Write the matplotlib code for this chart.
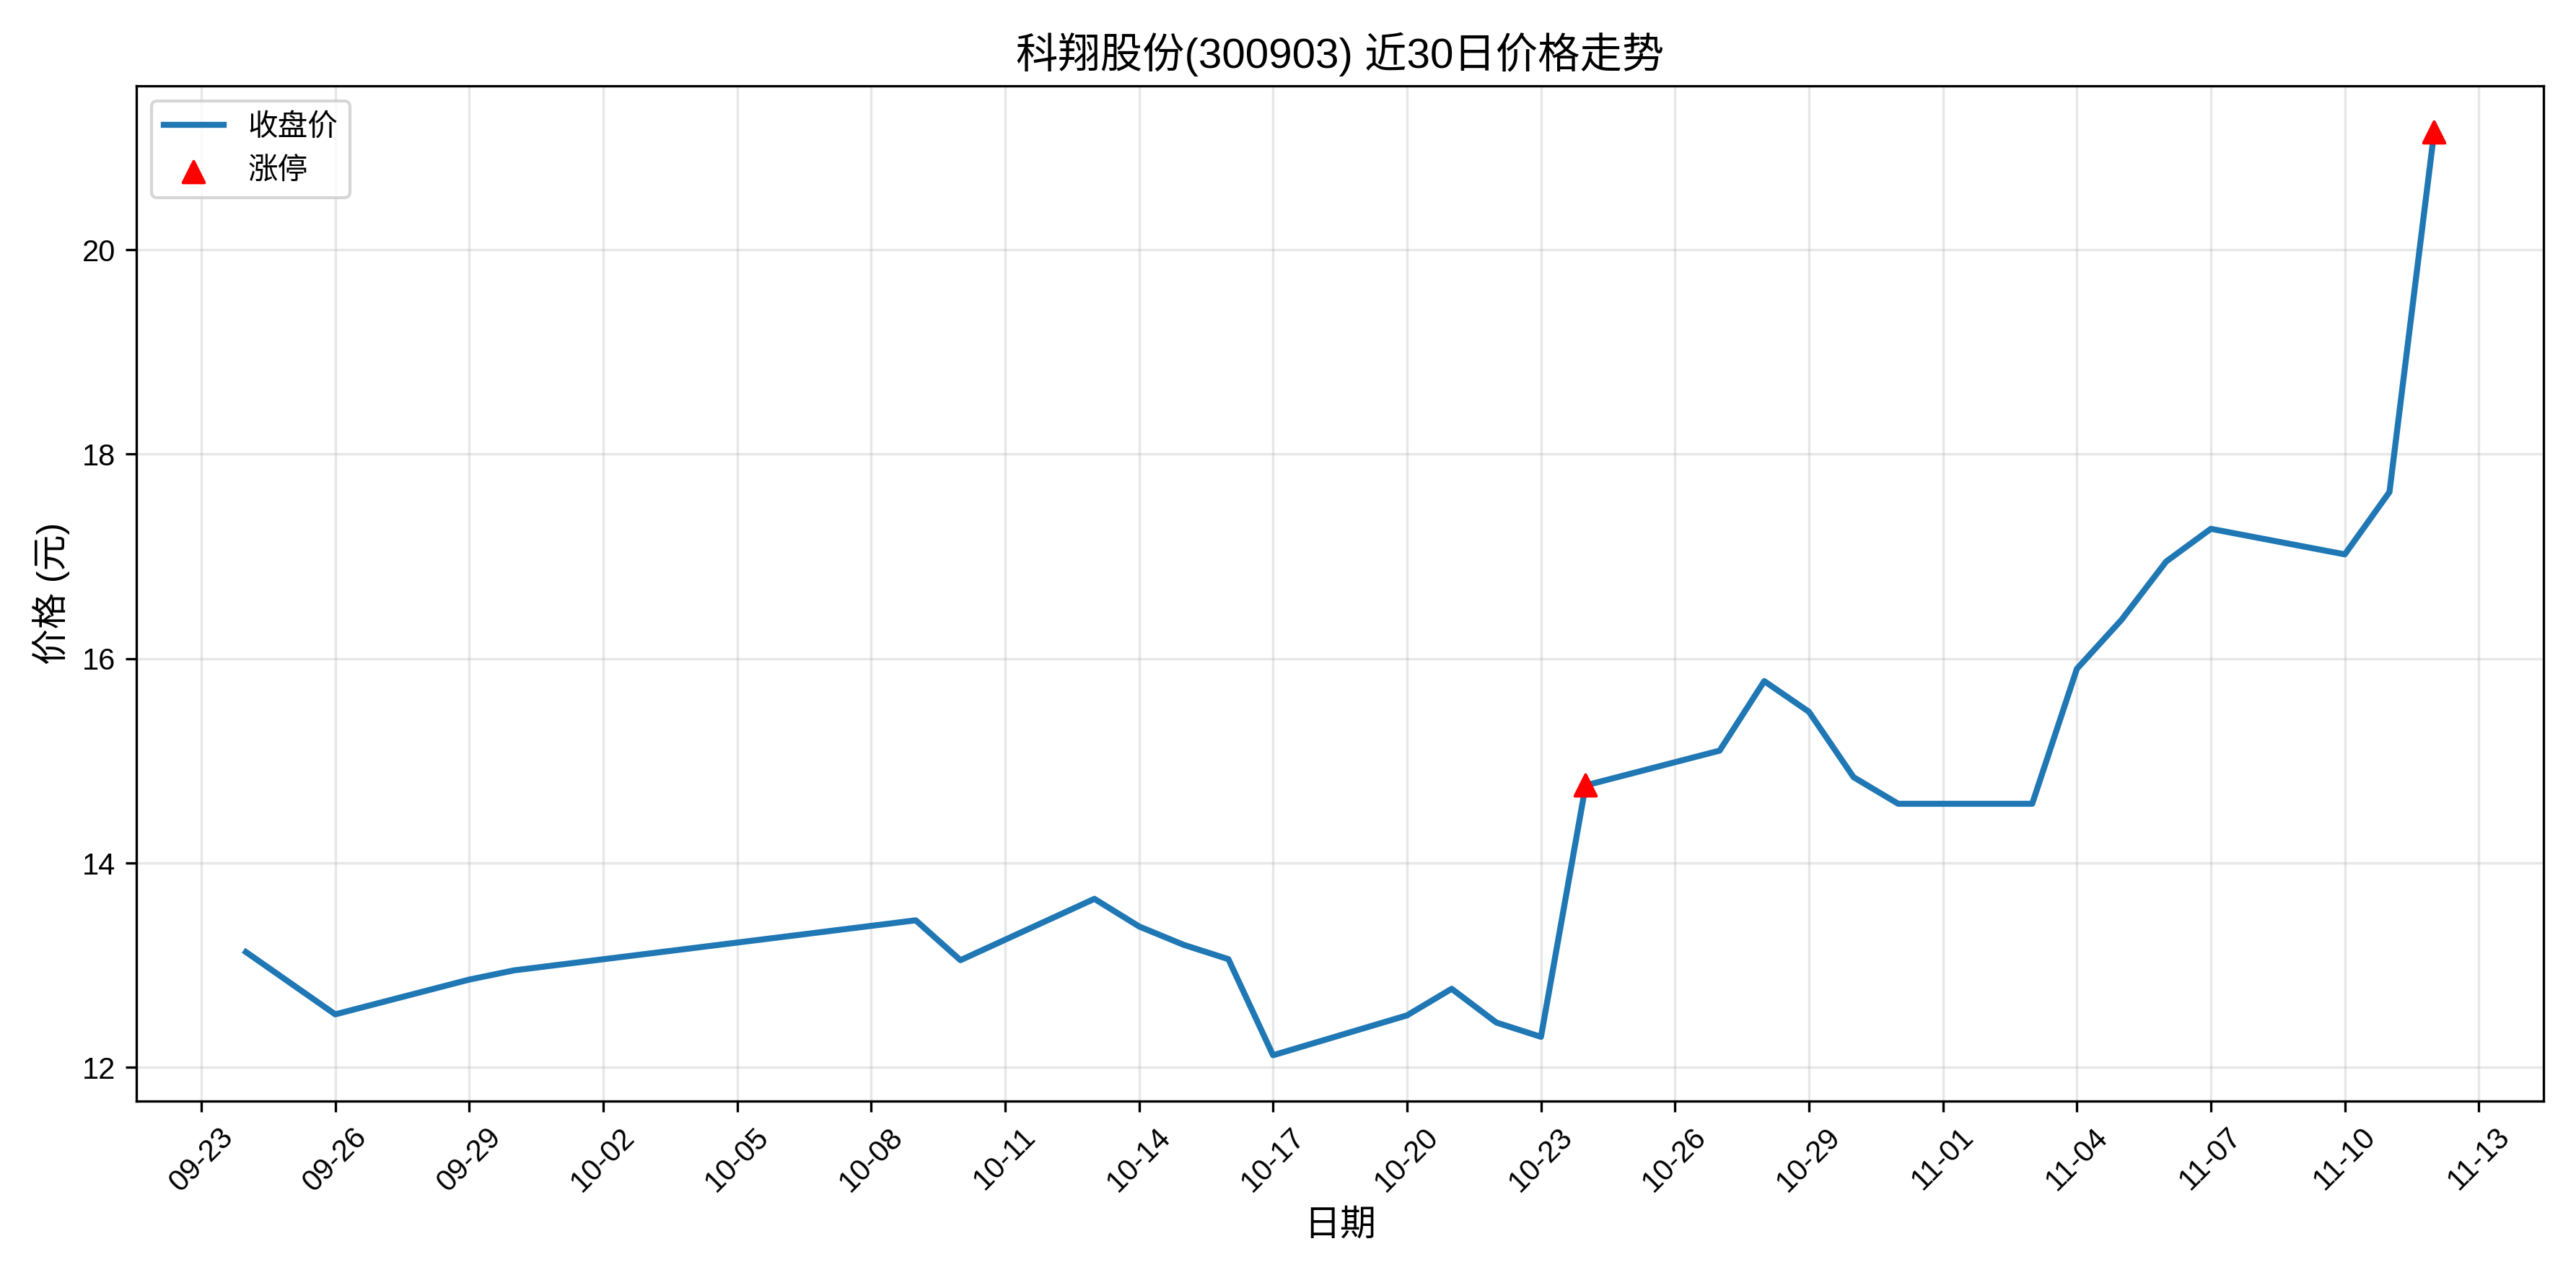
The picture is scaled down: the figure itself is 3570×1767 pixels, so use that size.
import matplotlib
matplotlib.use("Agg")
import matplotlib.pyplot as plt
import matplotlib.dates as mdates
import pandas as pd

plt.rcParams["font.family"] = ["Liberation Sans", "Noto Sans CJK SC", "DejaVu Sans"]
plt.rcParams["axes.unicode_minus"] = False

dates = ["2025-09-24", "2025-09-26", "2025-09-29", "2025-09-30", "2025-10-09", "2025-10-10",
         "2025-10-13", "2025-10-14", "2025-10-15", "2025-10-16", "2025-10-17", "2025-10-20",
         "2025-10-21", "2025-10-22", "2025-10-23", "2025-10-24", "2025-10-27", "2025-10-28",
         "2025-10-29", "2025-10-30", "2025-10-31", "2025-11-03", "2025-11-04", "2025-11-05",
         "2025-11-06", "2025-11-07", "2025-11-10", "2025-11-11", "2025-11-12"]
close = [13.13, 12.52, 12.86, 12.95, 13.44, 13.05,
         13.65, 13.38, 13.20, 13.06, 12.12, 12.51,
         12.77, 12.44, 12.30, 14.76, 15.10, 15.78,
         15.48, 14.84, 14.58, 14.58, 15.90, 16.38,
         16.95, 17.27, 17.02, 17.63, 21.15]
limit_up_dates = ["2025-10-24", "2025-11-12"]
limit_up_prices = [14.76, 21.15]

x = pd.to_datetime(dates)
xu = pd.to_datetime(limit_up_dates)

fig, ax = plt.subplots(figsize=(11.9, 5.89), dpi=300)
ax.plot(x, close, color="#1f77b4", linewidth=2, label="收盘价")
ax.scatter(xu, limit_up_prices, color="red", marker="^", s=50, zorder=5, label="涨停")
ax.set_title("科翔股份(300903) 近30日价格走势", fontsize=14)
ax.set_xlabel("日期", fontsize=12)
ax.set_ylabel("价格 (元)", fontsize=12)
ax.set_xticks(pd.date_range("2025-09-23", "2025-11-13", freq="3D"))
ax.xaxis.set_major_formatter(mdates.DateFormatter("%m-%d"))
plt.setp(ax.get_xticklabels(), rotation=45)
ax.grid(True, alpha=0.3)
ax.legend(loc="upper left")
fig.tight_layout()
fig.savefig("out.png", dpi=300)
